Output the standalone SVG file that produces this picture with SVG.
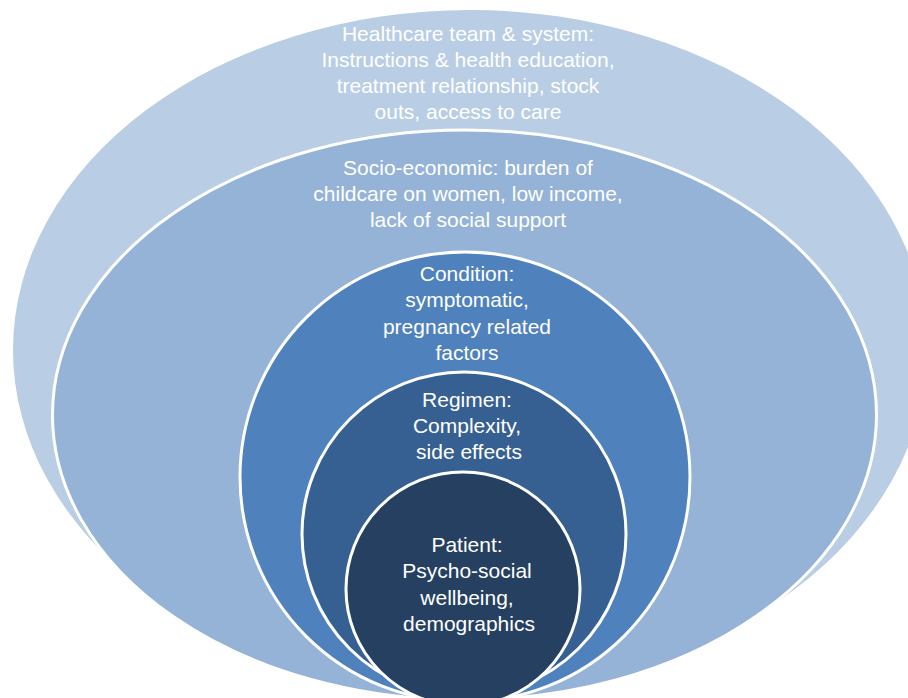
<svg xmlns="http://www.w3.org/2000/svg" width="908" height="698" viewBox="0 0 908 698">
<style>
.ring{stroke:#ffffff;stroke-width:3}
.t{font-family:"Liberation Sans",Arial,sans-serif;font-size:21px;fill:#ffffff;text-anchor:middle}
</style>
<rect width="908" height="698" fill="#ffffff"/>
<g id="healthcare">
<ellipse cx="470" cy="350" rx="457" ry="340" fill="#b9cde5"/>
<text class="t" x="468" y="41">Healthcare team &amp; system:</text>
<text class="t" x="468" y="67">Instructions &amp; health education,</text>
<text class="t" x="468" y="93">treatment relationship, stock</text>
<text class="t" x="468" y="119">outs, access to care</text>
</g>
<g id="socioeconomic">
<ellipse class="ring" cx="464.5" cy="415" rx="412" ry="285" fill="#95b3d7"/>
<text class="t" x="468" y="175">Socio-economic: burden of</text>
<text class="t" x="468" y="201">childcare on women, low income,</text>
<text class="t" x="468" y="227">lack of social support</text>
</g>
<g id="condition">
<ellipse class="ring" cx="465" cy="477" rx="225" ry="225" fill="#4f81bd"/>
<text class="t" x="467" y="281">Condition:</text>
<text class="t" x="467" y="307">symptomatic,</text>
<text class="t" x="467" y="334">pregnancy related</text>
<text class="t" x="467" y="360">factors</text>
</g>
<g id="regimen">
<ellipse class="ring" cx="464" cy="534" rx="162" ry="162" fill="#376092"/>
<text class="t" x="467" y="407">Regimen:</text>
<text class="t" x="467" y="433">Complexity,</text>
<text class="t" x="469" y="459">side effects</text>
</g>
<g id="patient">
<ellipse class="ring" cx="463" cy="589" rx="117" ry="117" fill="#254061"/>
<text class="t" x="467" y="552">Patient:</text>
<text class="t" x="467" y="578">Psycho-social</text>
<text class="t" x="467" y="605">wellbeing,</text>
<text class="t" x="469" y="631">demographics</text>
</g>
<g id="connectors"></g>
</svg>
